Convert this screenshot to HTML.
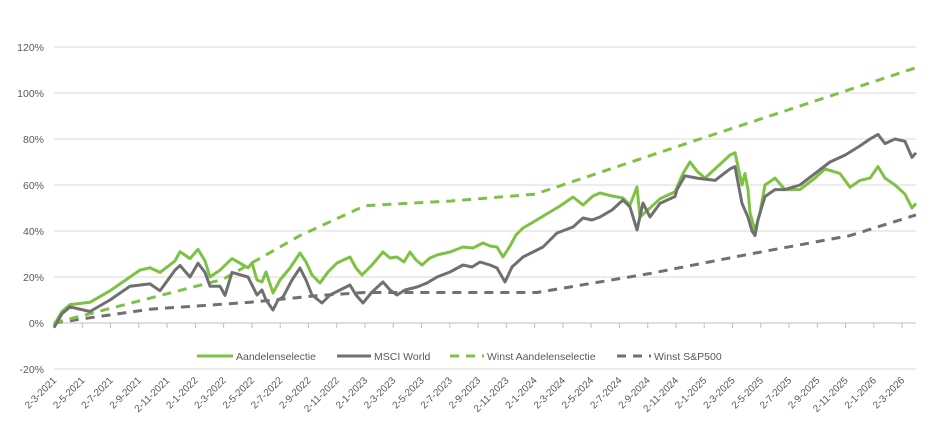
<!DOCTYPE html>
<html><head><meta charset="utf-8"><style>
body{margin:0;background:#fff;}
svg{display:block;font-family:"Liberation Sans",sans-serif;}
</style></head><body>
<svg width="940" height="425" viewBox="0 0 940 425" xmlns="http://www.w3.org/2000/svg">
<g stroke="#d9d9d9" stroke-width="1">
<line x1="54" x2="916" y1="47" y2="47"/><line x1="54" x2="916" y1="93" y2="93"/>
<line x1="54" x2="916" y1="139" y2="139"/><line x1="54" x2="916" y1="185" y2="185"/>
<line x1="54" x2="916" y1="231" y2="231"/><line x1="54" x2="916" y1="277" y2="277"/>
<line x1="54" x2="916" y1="369" y2="369"/>
</g>
<line x1="54" x2="916" y1="323" y2="323" stroke="#bfbfbf" stroke-width="1"/>
<g font-size="10.5" fill="#595959" text-anchor="end">
<text x="44" y="51">120%</text><text x="44" y="97">100%</text><text x="44" y="143">80%</text>
<text x="44" y="189">60%</text><text x="44" y="235">40%</text><text x="44" y="281">20%</text>
<text x="44" y="327">0%</text><text x="44" y="373">-20%</text>
</g>
<path stroke="#bfbfbf" fill="none" d="M54,323v5M82.3,323v5M110.5,323v5M138.8,323v5M167.1,323v5M195.4,323v5M223.6,323v5M251.9,323v5M280.2,323v5M308.4,323v5M336.7,323v5M365,323v5M393.2,323v5M421.5,323v5M449.8,323v5M478.1,323v5M506.3,323v5M534.6,323v5M562.9,323v5M591.1,323v5M619.4,323v5M647.7,323v5M675.9,323v5M704.2,323v5M732.5,323v5M760.8,323v5M789,323v5M817.3,323v5M845.6,323v5M873.8,323v5M902.1,323v5"/>
<g font-size="10" fill="#595959" text-anchor="end">
<text transform="translate(57,381) rotate(-45)">2-3-2021</text>
<text transform="translate(85.3,381) rotate(-45)">2-5-2021</text>
<text transform="translate(113.5,381) rotate(-45)">2-7-2021</text>
<text transform="translate(141.8,381) rotate(-45)">2-9-2021</text>
<text transform="translate(170.1,381) rotate(-45)">2-11-2021</text>
<text transform="translate(198.4,381) rotate(-45)">2-1-2022</text>
<text transform="translate(226.6,381) rotate(-45)">2-3-2022</text>
<text transform="translate(254.9,381) rotate(-45)">2-5-2022</text>
<text transform="translate(283.2,381) rotate(-45)">2-7-2022</text>
<text transform="translate(311.4,381) rotate(-45)">2-9-2022</text>
<text transform="translate(339.7,381) rotate(-45)">2-11-2022</text>
<text transform="translate(368,381) rotate(-45)">2-1-2023</text>
<text transform="translate(396.2,381) rotate(-45)">2-3-2023</text>
<text transform="translate(424.5,381) rotate(-45)">2-5-2023</text>
<text transform="translate(452.8,381) rotate(-45)">2-7-2023</text>
<text transform="translate(481.1,381) rotate(-45)">2-9-2023</text>
<text transform="translate(509.3,381) rotate(-45)">2-11-2023</text>
<text transform="translate(537.6,381) rotate(-45)">2-1-2024</text>
<text transform="translate(565.9,381) rotate(-45)">2-3-2024</text>
<text transform="translate(594.1,381) rotate(-45)">2-5-2024</text>
<text transform="translate(622.4,381) rotate(-45)">2-7-2024</text>
<text transform="translate(650.7,381) rotate(-45)">2-9-2024</text>
<text transform="translate(678.9,381) rotate(-45)">2-11-2024</text>
<text transform="translate(707.2,381) rotate(-45)">2-1-2025</text>
<text transform="translate(735.5,381) rotate(-45)">2-3-2025</text>
<text transform="translate(763.8,381) rotate(-45)">2-5-2025</text>
<text transform="translate(792,381) rotate(-45)">2-7-2025</text>
<text transform="translate(820.3,381) rotate(-45)">2-9-2025</text>
<text transform="translate(848.6,381) rotate(-45)">2-11-2025</text>
<text transform="translate(876.8,381) rotate(-45)">2-1-2026</text>
<text transform="translate(905.1,381) rotate(-45)">2-3-2026</text>
</g>
<g fill="none" stroke-width="3" stroke-linejoin="round">
<polyline stroke="#707070" stroke-dasharray="9,7" points="54,323 150,309.2 250,302.3 320,295.4 365,292.5 537,292.5 650,273.5 750,254 850,235.6 916,214.9"/>
<polyline stroke="#7dc242" stroke-dasharray="9,7" points="54,323 223,279.3 300,235.6 365,205.7 450,201.1 535,194.2 700,139 916,67.7"/>
<polyline stroke="#7dc242" points="54,325.3 62,311.5 70,304.6 90,302.3 110,290.8 130,277 140,270.1 150,267.8 160,272.4 175,260.9 180,251.7 190,258.6 198,249.4 205,260.9 210,277 220,270.1 232,258.6 248,267.8 252,263 257,280 262,282 266,272 273,293 280,280 290,268 300,253 306,262 312,275 320,283 328,272 337,263 350,257 356,268 362,275 372,265 383,252 390,258 397,257 404,262 410,252 416,260 422,265 430,258 437,255 450,252 463,247 473,248 483,243 490,246 497,247 503,257 510,246 516,235 523,228 535,221 550,212 560,206 573,197 583,205 593,196 600,193 612,196 623,198 630,205 637,187 640,217 650,208 660,198.8 675,191.9 683,173.5 690,162 697,171.2 705,178.1 715,168.9 730,155.1 735,152.8 742,185 745,173.5 748,189.6 750,212.6 755,231 760,212.6 765,185 775,178.1 785,189.6 800,189.6 815,178.1 825,168.9 840,173.5 850,187.3 860,180.4 870,178.1 878,166.6 885,178.1 895,185 905,194.2 912,208 916,203.4"/>
<polyline stroke="#707070" points="54,327.6 62,313.8 70,306.9 90,311.5 110,300 130,286.2 150,283.9 160,290.8 175,270.1 180,265.5 190,277 198,263.2 205,272.4 210,286.2 220,286.2 225,295.4 232,272.4 248,277 257,295 262,290 266,300 273,310 278,300 283,297 292,280 300,268 306,280 312,295 322,303 330,295 340,290 350,285 356,295 363,303 372,292 383,282 390,290 397,295 405,290 417,287 427,283 437,277 450,272 463,265 472,267 480,262 490,265 497,268 505,282 512,267 523,257 533,252 543,247 550,240 557,233 565,230 573,227 583,218 592,220 600,217 612,210 623,200 630,207 637,230 643,203 650,217 660,203.4 675,196.5 677,189.6 685,175.8 697,178.1 715,180.4 730,168.9 735,166.6 742,203.4 748,217.2 752,231 755,235.6 758,219.5 765,196.5 775,189.6 785,189.6 800,185 815,173.5 830,162 845,155.1 860,145.9 870,139 878,134.4 885,143.6 895,139 905,141.3 912,157.4 916,152.8"/>
</g>
<g font-size="10.5" fill="#595959">
<line x1="197" x2="233" y1="356" y2="356" stroke="#7dc242" stroke-width="3"/><text x="236" y="360">Aandelenselectie</text>
<line x1="337" x2="371" y1="356" y2="356" stroke="#707070" stroke-width="3"/><text x="374" y="360">MSCI World</text>
<line x1="450" x2="484" y1="356" y2="356" stroke="#7dc242" stroke-width="3" stroke-dasharray="9,7"/><text x="487" y="360">Winst Aandelenselectie</text>
<line x1="617" x2="651" y1="356" y2="356" stroke="#707070" stroke-width="3" stroke-dasharray="9,7"/><text x="654" y="360">Winst S&amp;P500</text>
</g>
</svg>
</body></html>
